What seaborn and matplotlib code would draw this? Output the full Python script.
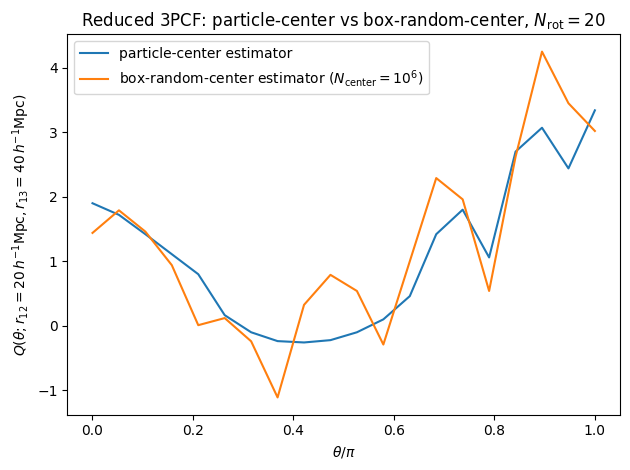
import numpy as np
import pandas as pd
import seaborn as sns
import matplotlib
matplotlib.use("Agg")
import matplotlib.pyplot as plt

# theta / pi sampled on 20 bins
theta = np.linspace(0, 1, 20)

q_particle = [1.90, 1.72, 1.42, 1.11, 0.80, 0.165, -0.10, -0.237, -0.258, -0.222,
              -0.10, 0.10, 0.46, 1.42, 1.80, 1.06, 2.70, 3.07, 2.44, 3.34]
q_random = [1.44, 1.79, 1.46, 0.94, 0.01, 0.12, -0.24, -1.11, 0.325, 0.79,
            0.54, -0.29, 1.0, 2.29, 1.96, 0.54, 2.62, 4.25, 3.45, 3.02]

lbl_particle = "particle-center estimator"
lbl_random = r"box-random-center estimator ($N_{\rm center}=10^6$)"

df = pd.DataFrame({"theta": np.concatenate([theta, theta]),
                   "Q": q_particle + q_random,
                   "est": [lbl_particle] * 20 + [lbl_random] * 20})

fig, ax = plt.subplots(figsize=(6.4, 4.8), dpi=100)
sns.lineplot(data=df, x="theta", y="Q", hue="est", ax=ax,
             palette=["#1f77b4", "#ff7f0e"], linewidth=1.5)

ax.set_xlabel(r"$\theta/\pi$")
ax.set_ylabel(r"$Q(\theta; r_{12}=20\,h^{-1}{\rm Mpc}, r_{13}=40\,h^{-1}{\rm Mpc})$")
ax.set_title(r"Reduced 3PCF: particle-center vs box-random-center, $N_{\rm rot}=20$")
ax.legend(title=None, loc="upper left")

plt.tight_layout()
plt.savefig("out.png", bbox_inches="tight")
